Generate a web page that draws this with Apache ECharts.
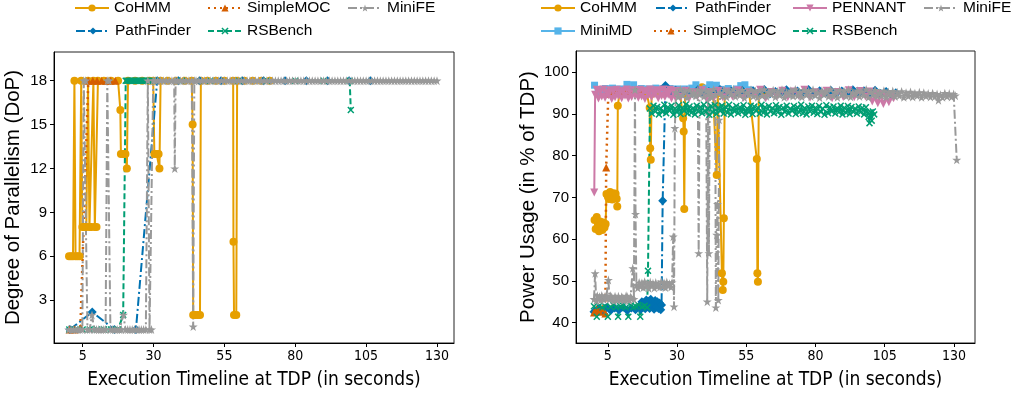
<!DOCTYPE html>
<html>
<head>
<meta charset="utf-8">
<script src="https://cdn.jsdelivr.net/npm/echarts@6/dist/echarts.min.js"></script>
<style>
html,body{margin:0;padding:0;background:#fff;}
#chart{width:1022px;height:395px;}
</style>
</head>
<body>
<div id="chart"></div>
<script>
// ---------- tick labels ----------
const xTicks = [5, 30, 55, 80, 105, 130];
const dopTicks = [3, 6, 9, 12, 15, 18];
const pwrTicks = [40, 50, 60, 70, 80, 90, 100];

// ---------- Left panel: Degree of Parallelism [time s, DoP] ----------
const dopCoHMM = [[0.2,6],[0.9,6],[1.6,6],[2.1,18],[2.5,6],[3.2,6],[3.9,6],[4.5,18],[4.9,8],[5.6,8],[6.3,8],[6.9,18],[7.4,8],[8.1,8],[8.8,18],[9.3,8],[9.9,8],[10.4,18],[12.5,18],[15,18],[17.5,18],[18.3,16],[18.5,13],[19.3,13],[20.1,13],[20.6,12],[21.0,18],[23.5,18],[26,18],[28.5,18],[29.9,18],[30.3,13],[31.1,13],[31.8,13],[32.1,12],[32.5,18],[35,18],[38,18],[41,18],[43.5,18],[43.8,15],[44.0,2],[44.8,2],[45.6,2],[46.4,2],[46.7,18],[49,18],[52,18],[55,18],[58.1,18],[58.2,7],[58.4,2],[59.2,2],[59.5,18],[62,18],[65,18],[68,18],[71,18]];
const dopPathFinder = [[0.5,1],[8.4,2.2],[16.2,1],[23.8,1],[31.3,18],[38.8,18],[46.3,18],[53.8,18],[61.3,18],[68.8,18],[76.4,18],[83.9,18],[91.4,18],[99.0,18],[106.5,18]];
const dopSimpleMOC = [[0.4,1],[2.2,1],[4.2,1.1],[7.0,18],[8.6,18],[10.1,18],[11.7,18],[13.3,18],[14.9,18],[16.5,18]];
const dopRSBench = [[0.3,1],[2.5,1],[5,1],[7.5,1],[10,1],[12.5,1],[15,1],[17.5,1],[19.3,2],[20.2,18],[20.7,18],[21.2,18],[21.7,18],[22.2,18],[22.7,18],[23.2,18],[23.7,18],[24.2,18],[24.7,18],[25.2,18],[25.7,18],[26.2,18],[26.7,18],[27.2,18],[27.7,18],[28.2,18],[29,18],[30,18],[40,18],[50,18],[60,18],[70,18],[80,18],[90,18],[99.2,18],[99.6,16]];
const dopMiniFE = [[0.1,1],[0.9,1],[1.7,1],[2.5,1],[3.3,1],[4.1,1],[4.9,1],[5.4,18],[6.1,18],[6.7,1],[7.5,1],[8.3,2],[9.1,1],[9.9,1],[10.7,1],[11.5,1],[12.3,1],[13.1,1],[13.7,18],[14.3,18],[14.8,1],[15.6,1],[16.4,1],[17.2,1],[18,1],[18.7,1],[19.4,2],[20.1,1],[20.9,1],[21.7,1],[22.5,1],[23.3,1],[24.1,1],[24.9,1],[25.7,1],[26.5,1],[27.3,1],[28,18],[28.6,1],[29.3,1],[29.9,18],[30.6,18],[31.5,18],[32.5,18],[33.5,18],[34.5,18],[35.5,18],[36.5,18],[37.3,18],[37.5,12],[37.8,18],[38.5,18],[39.5,18],[40.5,18],[41.5,18],[42.5,18],[43.5,18],[44.0,1.2],[44.4,18],[45,18],[46,18],[47,18],[48,18],[49,18],[50,18],[51,18],[52,18],[53,18],[54,18],[55,18],[56,18],[57,18],[58,18],[59,18],[60,18],[61,18],[62,18],[63,18],[64,18],[65,18],[66,18],[67,18],[68,18],[69,18],[70,18],[71,18],[72,18],[73,18],[74,18],[75,18],[76,18],[77,18],[78,18],[79,18],[80,18],[81,18],[82,18],[83,18],[84,18],[85,18],[86,18],[87,18],[88,18],[89,18],[90,18],[91,18],[92,18],[93,18],[94,18],[95,18],[96,18],[97,18],[98,18],[99,18],[100,18],[101,18],[102,18],[103,18],[104,18],[105,18],[106,18],[107,18],[108,18],[109,18],[110,18],[111,18],[112,18],[113,18],[114,18],[115,18],[116,18],[117,18],[118,18],[119,18],[120,18],[121,18],[122,18],[123,18],[124,18],[125,18],[126,18],[127,18],[128,18],[129,18],[130,18]];

// ---------- Right panel: Power usage [time s, % of TDP] ----------
const pwrCoHMM = [[0.2,64.6],[0.6,62.4],[1.0,65.3],[1.4,63.1],[1.8,61.9],[2.2,64.2],[2.6,63.4],[3.0,62.2],[3.4,64.0],[3.8,62.8],[4.2,63.6],[4.5,70.8],[5.0,70.2],[5.4,69.6],[5.8,71.3],[6.2,70.4],[6.6,69.5],[7.0,71.0],[7.4,70.1],[7.8,70.9],[8.2,69.7],[8.4,67.8],[8.6,92.0],[9.2,94.9],[11,95.3],[13,94.8],[15,95.4],[17,95.0],[19,95.2],[20.1,91.5],[20.3,81.8],[20.5,79.0],[20.8,94.8],[23,95.2],[25,94.9],[27,95.3],[29,95.0],[31,95.2],[32.2,89.0],[32.4,85.8],[32.6,67.2],[32.9,95.0],[35,95.3],[37,95.1],[39,96.4],[41,95.2],[43,95.4],[44.3,75.4],[44.7,95.0],[46.2,51.8],[46.5,47.8],[46.7,49.8],[46.9,65.0],[47.2,95.1],[50,95.3],[53,95.0],[56,95.2],[58.8,79.2],[59.0,51.8],[59.2,49.8],[59.5,95.0],[61,95.2]];
const pwrMiniMD = [[0.2,96.9],[1.5,95.8],[2.8,95.4],[4.1,96.1],[5.4,95.6],[6.7,96.2],[8.0,95.5],[9.3,96.0],[10.6,95.7],[11.9,97.1],[13.2,95.6],[14.3,97.0],[15.8,95.3],[17.1,96.1],[18.4,95.7],[19.7,96.0],[21.0,95.4],[22.3,96.2],[23.6,95.8],[24.9,96.1],[26.2,95.5],[27.5,96.1],[28.8,95.6],[30.1,96.0],[31.4,95.4],[32.7,96.0],[34.0,95.7],[35.3,96.2],[36.8,97.0],[37.9,95.8],[39.2,95.6],[40.5,96.2],[41.8,97.0],[43.1,96.0],[44.2,96.9],[45.7,95.9],[47.0,95.6],[48.5,96.1],[50.0,95.5],[51.5,96.0],[53.0,96.8],[54.5,97.0],[56.0,95.8]];
const pwrPathFinder = [[0,42.6],[1.5,43.4],[3,42.8],[4.5,43.6],[6,42.9],[7.5,43.5],[9,43.0],[10.5,43.7],[12,42.9],[13.5,43.5],[15,43.1],[16.5,44.0],[16.9,43.2],[17.3,45.0],[17.7,43.6],[18.1,44.8],[18.5,43.3],[18.9,45.4],[19.3,43.8],[19.7,45.1],[20.1,43.4],[20.5,45.6],[20.9,44.0],[21.3,44.9],[21.7,43.2],[22.1,45.3],[22.5,43.7],[22.9,45.0],[23.3,43.4],[23.7,44.7],[24.1,43.1],[24.4,44.2],[24.8,69.2],[25.8,96.8],[27.5,95.2],[29.5,95.7],[31.5,94.8],[33.5,95.5],[35.5,95.0],[37.5,95.8],[39.5,94.9],[41.5,95.4],[43.5,95.1],[45.5,95.9],[47.5,94.8],[49.5,95.5],[51.5,95.0],[53.5,95.7],[55.5,94.9],[57.5,95.6],[59.5,95.1],[61.5,95.9],[63.5,94.8],[65.5,95.4],[67.5,95.0],[69.5,95.8],[71.5,94.9],[73.5,95.5],[75.5,95.2],[77.5,95.9],[79.5,94.8],[81.5,95.6],[83.5,95.0],[85.5,95.7],[87.5,94.9],[89.5,95.5],[91.5,95.1],[93.5,95.8],[95.5,94.8],[97.5,95.6],[99.5,95.0],[101.5,95.7],[103.5,94.9],[105.5,95.4],[107.5,94.7],[109,95.1]];
const pwrSimpleMOC = [[0,42.4],[1,43.2],[2,42.6],[3,43.4],[4.1,42.2],[4.4,77.2],[5.2,95.6],[6.5,95.4],[8,95.7],[9.5,95.3],[11,95.6],[12.5,95.4],[14,95.7],[15.5,95.3],[17,95.5]];
const pwrPENNANT = [[0.1,71.2],[0.4,94.6],[1.0,95.8],[1.6,93.7],[2.2,95.3],[2.8,94.2],[3.4,95.9],[4.0,93.9],[4.6,95.1],[5.2,94.5],[5.8,95.7],[6.4,93.6],[7.0,95.4],[7.6,94.0],[8.2,95.8],[8.8,94.3],[9.4,95.2],[10.0,93.8],[10.6,95.6],[11.2,94.4],[11.8,95.9],[12.4,93.7],[13.0,95.3],[13.6,94.1],[14.2,95.7],[14.8,94.6],[15.4,95.0],[16.0,93.9],[16.6,95.8],[17.2,94.2],[17.8,95.4],[18.4,93.6],[19.0,95.6],[19.6,94.5],[20.2,95.9],[20.8,94.0],[21.4,95.2],[22.0,94.7],[22.6,95.7],[23.2,93.8],[23.8,95.5],[24.4,94.3],[25.0,95.9],[25.6,94.1],[26.2,95.3],[26.8,94.6],[27.4,95.8],[28.0,93.7],[28.6,95.4],[29.2,94.2],[29.8,95.6],[31.5,94.2],[33,95.6],[34.5,93.9],[36,95.2],[37.5,94.4],[39,95.7],[40.5,93.8],[42,95.3],[43.5,94.1],[45,95.6],[46.5,94.0],[48,95.4],[50,94.2],[52,95.7],[54,93.9],[56,95.2],[58,94.5],[60,95.8],[62,93.8],[64,95.3],[66,94.2],[68,95.6],[70,94.0],[72,95.4],[74,94.3],[76,95.8],[78,93.9],[80,95.2],[82,94.4],[84,95.6],[86,93.8],[88,95.3],[90,94.1],[92,95.7],[94,94.0],[96,95.5],[98,94.2],[99.5,95.4],[100.5,93.0],[101.5,94.6],[102.5,92.6],[103.5,94.8],[104.5,92.4],[105.5,94.2],[106.5,92.8],[107.5,94.5],[108.2,93.8]];
const pwrRSBench = [[0,43.9],[1,41.4],[2,44.1],[3,43.6],[4,43.9],[5,41.4],[6,43.8],[7,44.2],[8,43.7],[8.7,41.4],[9.5,43.9],[10.5,44.0],[11.5,43.6],[12.4,41.4],[13.3,44.1],[14.2,43.7],[15.1,43.9],[16,44.2],[16.7,41.4],[17.5,43.8],[18.3,44.0],[19.2,43.6],[19.5,52.4],[20.2,91.3],[20.85,90.1],[21.5,92.0],[22.15,90.6],[22.8,91.7],[23.45,89.9],[24.1,91.4],[24.75,90.5],[25.4,92.2],[26.05,90.2],[26.7,91.6],[27.35,90.8],[28.0,92.0],[28.65,89.8],[29.3,91.3],[29.95,90.4],[30.6,92.1],[31.25,90.0],[31.9,91.5],[32.55,90.7],[33.2,92.3],[33.85,90.1],[34.5,91.8],[35.15,90.3],[35.8,91.4],[36.45,89.9],[37.1,92.0],[37.75,90.6],[38.4,91.6],[39.05,90.2],[39.7,92.2],[40.35,90.5],[41.0,91.3],[41.65,89.8],[42.3,91.9],[42.95,90.4],[43.6,92.1],[44.25,90.0],[44.9,91.5],[45.55,90.7],[46.2,92.0],[46.85,90.1],[47.5,91.7],[48.15,90.3],[48.8,92.2],[49.45,89.9],[50.1,91.4],[50.75,90.6],[51.4,91.9],[52.05,90.2],[52.7,91.6],[53.35,90.5],[54.0,92.1],[54.65,89.8],[55.3,91.3],[55.95,90.4],[56.6,92.0],[57.25,90.0],[57.9,91.8],[58.55,90.7],[59.2,91.5],[59.85,90.1],[60.5,92.2],[61.15,90.3],[61.8,91.6],[62.45,89.9],[63.1,91.9],[63.75,90.6],[64.4,91.4],[65.05,90.2],[65.7,92.1],[66.35,90.4],[67.0,91.7],[67.65,89.8],[68.3,91.5],[68.95,90.5],[69.6,92.0],[70.25,90.1],[70.9,91.3],[71.55,90.7],[72.2,91.9],[72.85,90.0],[73.5,91.6],[74.15,90.4],[74.8,92.2],[75.45,90.2],[76.1,91.4],[76.75,89.9],[77.4,91.8],[78.05,90.6],[78.7,92.0],[79.35,90.3],[80.0,91.5],[80.65,90.0],[81.3,91.9],[81.95,90.5],[82.6,91.3],[83.25,89.8],[83.9,92.1],[84.55,90.2],[85.2,91.6],[85.85,90.6],[86.5,91.8],[87.15,90.1],[87.8,91.4],[88.45,90.4],[89.1,92.0],[89.75,89.9],[90.4,91.5],[91.05,90.3],[91.7,91.9],[92.35,90.0],[93.0,91.7],[93.65,90.5],[94.3,91.3],[94.95,90.1],[95.6,91.8],[96.25,90.4],[96.9,91.5],[97.55,89.9],[98.2,91.6],[98.85,90.2],[99.2,89.3],[99.5,87.8],[99.9,90.4],[100.3,88.4],[100.7,90.6],[101.2,89.9]];
const pwrMiniFE = [[0,45.6],[0.4,51.8],[0.8,45.2],[1.2,46.4],[1.6,45.7],[2.0,46.2],[2.4,45.4],[2.8,46.5],[3.2,46.0],[3.6,45.5],[4,46.3],[4.4,45.8],[4.8,45.9],[5.2,50.2],[5.6,45.6],[6.0,46.4],[6.4,46.1],[6.8,45.5],[7.2,45.2],[7.6,46.3],[8,45.8],[8.4,45.4],[8.8,46.3],[9.2,45.7],[9.6,45.4],[10.0,46.2],[10.4,45.9],[10.8,45.3],[11.2,45.5],[11.6,46.4],[12,46.2],[12.4,45.6],[12.8,45.3],[13.2,46.1],[13.6,45.8],[14.0,53.0],[14.4,45.6],[14.8,95.8],[15.0,66.0],[15.3,49.0],[15.8,48.3],[16.3,49.6],[16.8,48.7],[17.3,49.5],[17.8,48.4],[18.3,49.8],[18.8,48.6],[19.3,49.3],[19.8,48.2],[20.3,49.7],[20.8,48.9],[21.3,49.4],[21.8,48.3],[22.3,49.6],[22.8,48.7],[23.3,49.2],[23.8,48.5],[24.3,49.8],[24.8,48.6],[25.3,49.5],[25.8,48.4],[26.3,49.7],[26.8,48.8],[27.3,49.3],[27.8,48.5],[28.2,49.6],[28.6,60.6],[28.9,43.8],[29.2,86.6],[29.6,95.2],[30.4,94.1],[31.2,95.9],[32.0,94.5],[32.8,95.4],[33.6,93.9],[34.4,95.7],[35.2,94.6],[36.0,95.1],[36.8,94.3],[37.5,95.8],[37.8,56.6],[38.1,94.7],[38.9,95.5],[39.7,94.2],[40.5,95.6],[40.9,45.0],[41.2,94.7],[41.5,56.6],[41.8,95.3],[42.5,94.0],[43.2,95.9],[43.8,94.6],[44.0,43.6],[44.3,61.0],[44.6,68.4],[44.9,45.4],[45.2,88.6],[45.5,95.1],[46.3,94.3],[47.1,95.8],[47.9,94.1],[48.7,95.4],[49.5,94.7],[50.3,95.9],[51.1,94.2],[51.9,95.3],[52.7,94.5],[53.5,95.7],[54.3,93.9],[55.1,95.2],[55.9,94.6],[56.7,95.8],[57.5,94.3],[58.3,95.5],[59.1,94.0],[59.9,95.6],[60.7,94.4],[61.5,95.9],[62.3,94.2],[63.1,95.3],[63.9,94.7],[64.7,95.7],[65.5,94.1],[66.3,95.4],[67.1,94.5],[67.9,95.8],[68.7,94.0],[69.5,95.2],[70.3,94.6],[71.1,95.6],[71.9,94.3],[72.7,95.9],[73.5,94.4],[74.3,95.3],[75.1,94.1],[75.9,95.7],[76.7,94.6],[77.5,95.5],[78.3,94.2],[79.1,95.8],[79.9,94.5],[80.7,95.2],[81.5,93.9],[82.3,95.6],[83.1,94.7],[83.9,95.4],[84.7,94.2],[85.5,95.9],[86.3,94.4],[87.1,95.3],[87.9,94.0],[88.7,95.7],[89.5,94.6],[90.3,95.5],[91.1,94.3],[91.9,95.8],[92.7,94.1],[93.5,95.2],[94.3,94.7],[95.1,95.6],[95.9,94.2],[96.7,95.4],[97.5,94.5],[98.3,95.9],[99.1,94.0],[99.9,95.3],[100.7,94.6],[101.5,95.7],[102.3,94.3],[103.1,95.1],[103.9,94.4],[104.7,95.6],[105.5,94.1],[106.3,95.3],[107.1,94.5],[107.9,95.5],[108.7,94.2],[109.5,95.2],[110.3,94.4],[111.1,95.4],[111.9,94.0],[112.7,95.1],[113.5,94.3],[114.3,95.3],[115.1,94.1],[115.9,95.0],[116.7,94.4],[117.5,95.2],[118.3,94.0],[119.1,95.1],[119.9,94.3],[120.7,94.9],[121.5,94.1],[122.3,95.0],[123.1,94.2],[123.9,94.8],[124.4,93.3],[125.1,94.6],[125.9,94.0],[126.7,95.0],[127.5,94.2],[128.3,94.9],[129.1,94.1],[129.9,94.8],[130.5,94.4],[131.0,79.0]];

// ---------- styles ----------
const FONT = "'Liberation Sans', Arial, sans-serif";
const NARROW = "'Liberation Sans Narrow', 'DejaVu Sans Condensed', 'Liberation Sans', sans-serif";
const STAR = 'path://M5,0 L6.18,3.6 L10,3.6 L6.9,5.85 L8.1,9.5 L5,7.25 L1.9,9.5 L3.1,5.85 L0,3.6 L3.82,3.6 Z';
const CROSS = 'path://M1.5,0 L5,3.5 L8.5,0 L10,1.5 L6.5,5 L10,8.5 L8.5,10 L5,6.5 L1.5,10 L0,8.5 L3.5,5 L0,1.5 Z';
const TRIDOWN = 'path://M0,0 L10,0 L5,9 Z';
const STYLE = {
  CoHMM:      {color:'#E69F00', dash:'solid',   symbol:'circle',   size:8, width:2},
  PathFinder: {color:'#0072B2', dash:[9,3,2,3], symbol:'diamond',  size:9, width:2},
  SimpleMOC:  {color:'#D55E00', dash:[2,4],     symbol:'triangle', size:8, width:2.5},
  RSBench:    {color:'#009E73', dash:[6,3],     symbol:CROSS,      size:7, width:2},
  MiniFE:     {color:'#999999', dash:[9,3,2,3], symbol:STAR,       size:9, width:2},
  PENNANT:    {color:'#CC79A7', dash:'solid',   symbol:TRIDOWN,    size:8, width:2},
  MiniMD:     {color:'#56B4E9', dash:'solid',   symbol:'rect',     size:7, width:2}
};

function mk(name, data, idx) {
  const s = STYLE[name];
  return {
    type:'line', name:name, data:data, xAxisIndex:idx, yAxisIndex:idx,
    symbol:s.symbol, symbolSize:s.size, showAllSymbol:true,
    lineStyle:{color:s.color, width:s.width, type:s.dash},
    itemStyle:{color:s.color, borderWidth:0},
    emphasis:{disabled:true}, animation:false, clip:true
  };
}

function xAxisFor(idx, min, max) {
  return {
    gridIndex:idx, type:'value', min:min, max:max,
    axisLine:{show:true, onZero:false, lineStyle:{color:'#000', width:1}},
    axisTick:{show:true, length:4, customValues:xTicks, lineStyle:{color:'#000'}},
    axisLabel:{customValues:xTicks, color:'#000', fontSize:14, fontFamily:NARROW, margin:6},
    splitLine:{show:false},
    name:'Execution Timeline at TDP (in seconds)', nameLocation:'middle', nameGap:28,
    nameTextStyle:{fontSize:19, fontFamily:NARROW, color:'#000'}
  };
}
function yAxisFor(idx, min, max, ticks, title, gap) {
  return {
    gridIndex:idx, type:'value', min:min, max:max,
    axisLine:{show:true, onZero:false, lineStyle:{color:'#000', width:1}},
    axisTick:{show:true, length:4, customValues:ticks, lineStyle:{color:'#000'}},
    axisLabel:{customValues:ticks, color:'#000', fontSize:15, fontFamily:FONT, margin:7},
    splitLine:{show:false},
    name:title, nameLocation:'middle', nameGap:gap,
    nameTextStyle:{fontSize:20.5, fontFamily:FONT, color:'#000'}
  };
}

const legendSpots = [
  ['CoHMM',74,0],['SimpleMOC',207,0],['MiniFE',347,0],['PathFinder',75,1],['RSBench',207,1],
  ['CoHMM',540,0],['PathFinder',655,0],['PENNANT',792,0],['MiniFE',923,0],
  ['MiniMD',540,1],['SimpleMOC',653,1],['RSBench',792,1]
];
const legends = legendSpots.map(function (p) {
  return {
    data:[p[0]], left:p[1], top: p[2] === 0 ? 0 : 23, padding:0,
    itemWidth:34, itemHeight:9, itemGap:0, selectedMode:false,
    textStyle:{fontSize:15.5, fontFamily:FONT, color:'#000'}
  };
});

const option = {
  backgroundColor:'#fff',
  animation:false,
  textStyle:{fontFamily:FONT},
  legend:legends,
  grid:[
    {left:54, top:52, width:400, height:291, show:true, borderColor:'#222', borderWidth:1, backgroundColor:'transparent'},
    {left:576, top:51, width:399, height:292, show:true, borderColor:'#222', borderWidth:1, backgroundColor:'transparent'}
  ],
  xAxis:[xAxisFor(0, -5.1, 136), xAxisFor(1, -6.5, 137.6)],
  yAxis:[
    yAxisFor(0, 0.08, 19.96, dopTicks, 'Degree of Parallelism (DoP)', 30),
    yAxisFor(1, 35.1, 105.1, pwrTicks, 'Power Usage (in % of TDP)', 37)
  ],
  series:[
    mk('CoHMM', dopCoHMM, 0),
    mk('PathFinder', dopPathFinder, 0),
    mk('SimpleMOC', dopSimpleMOC, 0),
    mk('RSBench', dopRSBench, 0),
    mk('MiniFE', dopMiniFE, 0),
    mk('CoHMM', pwrCoHMM, 1),
    mk('MiniMD', pwrMiniMD, 1),
    mk('PathFinder', pwrPathFinder, 1),
    mk('SimpleMOC', pwrSimpleMOC, 1),
    mk('PENNANT', pwrPENNANT, 1),
    mk('RSBench', pwrRSBench, 1),
    mk('MiniFE', pwrMiniFE, 1)
  ]
};

const chart = echarts.init(document.getElementById('chart'), null, {renderer:'canvas'});
chart.setOption(option);
</script>
</body>
</html>
